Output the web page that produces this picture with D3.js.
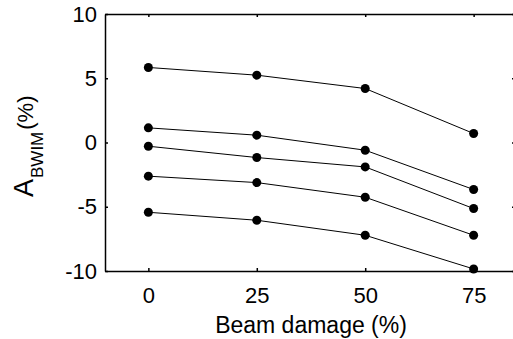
<!DOCTYPE html>
<html>
<head>
<meta charset="utf-8">
<script src="https://cdn.jsdelivr.net/npm/d3@7"></script>
<style>
  body { margin: 0; background: #fff; }
  svg { display: block; font-family: "Liberation Sans", Arial, sans-serif; }
</style>
</head>
<body>
<svg id="chart" width="513" height="339"></svg>
<script>
// beam damage levels (%)
var damage = [0, 25, 50, 75];
// A_BWIM (%) for each curve
var series1 = [5.84, 5.24, 4.2, 0.7];
var series2 = [1.14, 0.57, -0.6, -3.66];
var series3 = [-0.29, -1.17, -1.9, -5.14];
var series4 = [-2.62, -3.12, -4.26, -7.22];
var series5 = [-5.43, -6.05, -7.22, -9.84];
var allSeries = [series1, series2, series3, series4, series5];
var xTicks = [0, 25, 50, 75];
var yTicks = [-10, -5, 0, 5, 10];

var dimensions = {
  width: 513,
  height: 339,
  margin: { top: 14, right: -4, bottom: 68, left: 105 },
};
dimensions.boundedWidth =
  dimensions.width - dimensions.margin.left - dimensions.margin.right;
dimensions.boundedHeight =
  dimensions.height - dimensions.margin.top - dimensions.margin.bottom;

var svg = d3.select("#chart");

var xScale = d3
  .scaleLinear()
  .domain([-10, 85])
  .range([0, dimensions.boundedWidth]);
var yScale = d3
  .scaleLinear()
  .domain([-10, 10])
  .range([dimensions.boundedHeight, 0]);

var bounds = svg
  .append("g")
  .attr(
    "transform",
    "translate(" + dimensions.margin.left + "," + dimensions.margin.top + ")"
  );

// plain hyphen for negatives, like the original
var plain = function (d) { return String(d); };

// bottom axis with labels
var xAxis = d3.axisBottom(xScale).tickValues(xTicks).tickFormat(plain)
  .tickSizeInner(-3).tickSizeOuter(0).tickPadding(16);
var gx = bounds
  .append("g")
  .attr("transform", "translate(0," + dimensions.boundedHeight + ")")
  .call(xAxis);
// top axis, ticks only
var gxTop = bounds
  .append("g")
  .call(d3.axisTop(xScale).tickValues(xTicks).tickSizeInner(-3).tickSizeOuter(0).tickFormat(""));
// left axis with labels
var yAxis = d3.axisLeft(yScale).tickValues(yTicks).tickFormat(plain)
  .tickSizeInner(-3).tickSizeOuter(0).tickPadding(8);
var gy = bounds.append("g").call(yAxis);
// right axis, ticks only
var gyRight = bounds
  .append("g")
  .attr("transform", "translate(" + (dimensions.boundedWidth - 2) + ",0)")
  .call(d3.axisRight(yScale).tickValues(yTicks).tickSizeInner(-3).tickSizeOuter(0).tickFormat(""));
gyRight.select(".domain").remove();

[gx, gxTop, gy, gyRight].forEach(function (g) {
  g.attr("font-size", null).attr("font-family", null);
  g.selectAll(".domain").attr("stroke", "#000").attr("stroke-width", 1.5);
  g.selectAll(".tick line").attr("stroke", "#000").attr("stroke-width", 1.5);
  g.selectAll("text").attr("fill", "#000").style("font-size", "22px");
});

// lines and markers
var line = d3
  .line()
  .x(function (d, i) { return xScale(damage[i]); })
  .y(function (d) { return yScale(d); });

allSeries.forEach(function (s) {
  bounds
    .append("path")
    .datum(s)
    .attr("d", line)
    .attr("fill", "none")
    .attr("stroke", "#000")
    .attr("stroke-width", 1);
  bounds
    .selectAll(null)
    .data(s)
    .enter()
    .append("circle")
    .attr("cx", function (d, i) { return xScale(damage[i]); })
    .attr("cy", function (d) { return yScale(d); })
    .attr("r", 4.5)
    .attr("fill", "#000");
});

// axis titles
svg
  .append("text")
  .attr("x", dimensions.margin.left + xScale(37.5))
  .attr("y", 333)
  .attr("text-anchor", "middle")
  .style("font-size", "23px")
  .text("Beam damage (%)");

var yLabel = svg
  .append("text")
  .attr("transform", "translate(33,197) rotate(-90)")
  .attr("text-anchor", "start");
yLabel.append("tspan").style("font-size", "27px").text("A");
yLabel.append("tspan").attr("dy", 10).attr("dx", 1).style("font-size", "17px").text("BWIM");
yLabel.append("tspan").attr("dy", -10).attr("dx", 2).style("font-size", "22px").text("(%)");
</script>
</body>
</html>
